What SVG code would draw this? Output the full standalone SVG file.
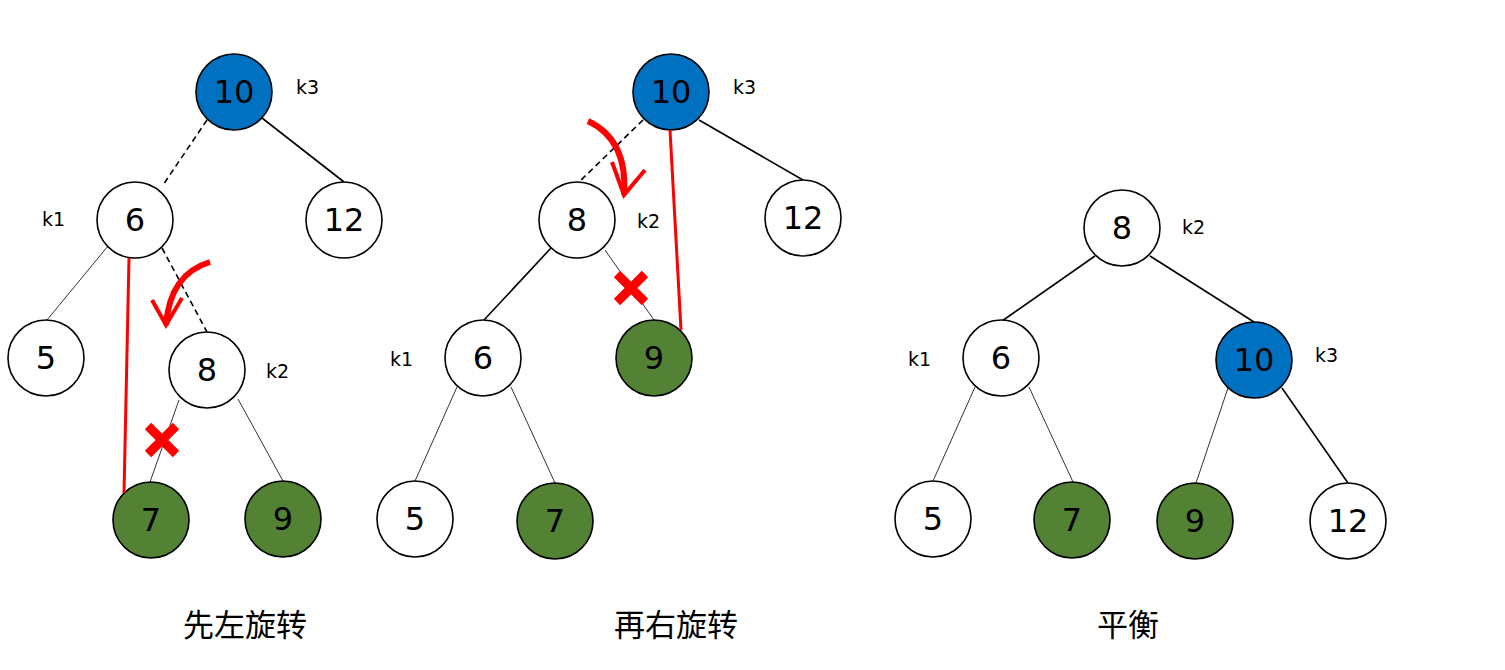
<svg xmlns="http://www.w3.org/2000/svg" width="1505" height="670" viewBox="0 0 1505 670">
<style>
.n{fill:#fff;stroke:#000;stroke-width:1.6}
.b{fill:#0070C0}
.g{fill:#548235}
.t{font-family:"DejaVu Sans",sans-serif;font-size:32px;text-anchor:middle;dominant-baseline:central;fill:#000}
.k{font-family:"DejaVu Sans",sans-serif;font-size:19px;fill:#000}
.e{stroke:#000;stroke-width:1.6;fill:none}
.th{stroke:#333;stroke-width:1;fill:none}
.d{stroke:#000;stroke-width:1.6;stroke-dasharray:6 4;fill:none}
.r{stroke:#ff0000;stroke-width:3;fill:none}
.ra{stroke:#ff0000;stroke-width:6;fill:none;stroke-linecap:butt}
.rh{stroke:#ff0000;stroke-width:4;fill:none}
.x{stroke:#ff0000;stroke-width:9;fill:none}
.c{font-family:"Noto Sans CJK SC",sans-serif;font-size:31px;text-anchor:middle;fill:#000}
</style>
<g id="connectors">
<line class="d" x1="207" y1="120" x2="163" y2="185"/>
<line class="e" x1="262" y1="118" x2="344" y2="182"/>
<line class="th" x1="108" y1="246" x2="47" y2="320"/>
<line class="d" x1="162" y1="248" x2="207" y2="332"/>
<line class="th" x1="179" y1="400" x2="150" y2="482"/>
<line class="th" x1="238" y1="399" x2="283" y2="481"/>
<line class="d" x1="643" y1="120" x2="578" y2="183"/>
<line class="e" x1="699" y1="120" x2="803" y2="180"/>
<line class="e" x1="551" y1="248" x2="484" y2="320"/>
<line class="th" x1="605" y1="250" x2="654" y2="320"/>
<line class="th" x1="457" y1="387" x2="415" y2="481"/>
<line class="th" x1="511" y1="387" x2="555" y2="483"/>
<line class="e" x1="1095" y1="256" x2="1002" y2="321"/>
<line class="e" x1="1150" y1="256" x2="1254" y2="322"/>
<line class="th" x1="975" y1="387" x2="933" y2="481"/>
<line class="th" x1="1029" y1="387" x2="1073" y2="482"/>
<line class="th" x1="1228" y1="388" x2="1196" y2="483"/>
<line class="e" x1="1282" y1="388" x2="1348" y2="483"/>
</g>
<g id="p1-n10"><circle class="n b" cx="234" cy="92" r="38"/><text class="t" x="234" y="92">10</text></g>
<g id="p1-n6"><circle class="n" cx="135" cy="220" r="38"/><text class="t" x="135" y="220">6</text></g>
<g id="p1-n12"><circle class="n" cx="344" cy="220" r="38"/><text class="t" x="344" y="220">12</text></g>
<g id="p1-n5"><circle class="n" cx="46" cy="358" r="38"/><text class="t" x="46" y="358">5</text></g>
<g id="p1-n8"><circle class="n" cx="207" cy="370" r="38"/><text class="t" x="207" y="370">8</text></g>
<g id="p1-n7"><circle class="n g" cx="151" cy="520" r="38"/><text class="t" x="151" y="520">7</text></g>
<g id="p1-n9"><circle class="n g" cx="283" cy="519" r="38"/><text class="t" x="283" y="519">9</text></g>
<g id="p1-labels">
<text class="k" x="296" y="94">k3</text>
<text class="k" x="42" y="226">k1</text>
<text class="k" x="266" y="378">k2</text>
</g>
<g id="p1-marks">
<line class="r" x1="129" y1="258" x2="124" y2="493"/>
<path class="ra" d="M210,262 Q170,274 166,325"/>
<path class="rh" d="M152,300 L166,325 L182,298"/>
<path class="x" d="M148,426 L176,454 M176,426 L148,454"/>
</g>
<g id="p2-n10"><circle class="n b" cx="671" cy="92" r="38"/><text class="t" x="671" y="92">10</text></g>
<g id="p2-n8"><circle class="n" cx="577" cy="220" r="38"/><text class="t" x="577" y="220">8</text></g>
<g id="p2-n12"><circle class="n" cx="803" cy="218" r="38"/><text class="t" x="803" y="218">12</text></g>
<g id="p2-n6"><circle class="n" cx="483" cy="358" r="38"/><text class="t" x="483" y="358">6</text></g>
<g id="p2-n9"><circle class="n g" cx="654" cy="358" r="38"/><text class="t" x="654" y="358">9</text></g>
<g id="p2-n5"><circle class="n" cx="415" cy="519" r="38"/><text class="t" x="415" y="519">5</text></g>
<g id="p2-n7"><circle class="n g" cx="555" cy="521" r="38"/><text class="t" x="555" y="521">7</text></g>
<g id="p2-labels">
<text class="k" x="733" y="94">k3</text>
<text class="k" x="637" y="228">k2</text>
<text class="k" x="390" y="366">k1</text>
</g>
<g id="p2-marks">
<line class="r" x1="670" y1="130" x2="681" y2="330"/>
<path class="ra" d="M588,121 Q628,140 624,195"/>
<path class="rh" d="M612,162 L624,195 L645,170"/>
<path class="x" d="M617,274 L645,302 M645,274 L617,302"/>
</g>
<g id="p3-n8"><circle class="n" cx="1122" cy="228" r="38"/><text class="t" x="1122" y="228">8</text></g>
<g id="p3-n6"><circle class="n" cx="1001" cy="358" r="38"/><text class="t" x="1001" y="358">6</text></g>
<g id="p3-n10"><circle class="n b" cx="1254" cy="360" r="38"/><text class="t" x="1254" y="360">10</text></g>
<g id="p3-n5"><circle class="n" cx="933" cy="519" r="38"/><text class="t" x="933" y="519">5</text></g>
<g id="p3-n7"><circle class="n g" cx="1072" cy="520" r="38"/><text class="t" x="1072" y="520">7</text></g>
<g id="p3-n9"><circle class="n g" cx="1195" cy="521" r="38"/><text class="t" x="1195" y="521">9</text></g>
<g id="p3-n12"><circle class="n" cx="1348" cy="521" r="38"/><text class="t" x="1348" y="521">12</text></g>
<g id="p3-labels">
<text class="k" x="1182" y="234">k2</text>
<text class="k" x="908" y="366">k1</text>
<text class="k" x="1315" y="362">k3</text>
</g>
<g id="captions">
<text class="c" x="245" y="636">先左旋转</text>
<text class="c" x="676" y="636">再右旋转</text>
<text class="c" x="1128" y="636">平衡</text>
</g>
</svg>
